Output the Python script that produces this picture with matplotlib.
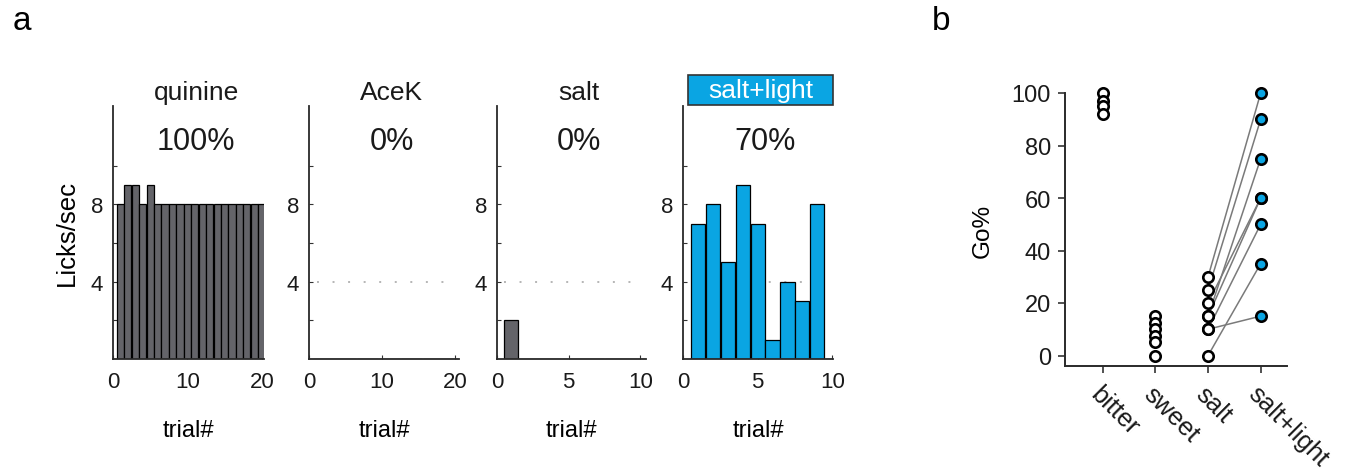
import matplotlib
matplotlib.use("Agg")
import matplotlib.pyplot as plt
from matplotlib.patches import Rectangle

plt.rcParams["font.family"] = ["Liberation Sans", "DejaVu Sans"]

BLUE = "#0aa5e3"
GRAY = "#646469"

# panel a: licks per trial
TITLES = ["quinine", "AceK", "salt", "salt+light"]
GO_PCT = ["100%", "0%", "0%", "70%"]
quinine = [8, 9, 9, 8, 9, 8, 8, 8, 8, 8, 8, 8, 8, 8, 8, 8, 8, 8, 8, 8]
acek = [0, 0, 0, 0, 0, 0, 0, 0, 0, 0, 0, 0, 0, 0, 0, 0, 0, 0, 0, 0]
salt = [2, 0, 0, 0, 0, 0, 0, 0, 0, 0]
salt_light = [7, 8, 5, 9, 7, 1, 4, 3, 8, 0]
LICKS = [quinine, acek, salt, salt_light]
XTICKS = [[0, 10, 20], [0, 10, 20], [0, 5, 10], [0, 5, 10]]

# panel b: Go% per mouse
CATS = ["bitter", "sweet", "salt", "salt+light"]
bitter_go = [100, 97, 95, 92]
sweet_go = [15, 12.5, 10, 7.5, 5, 0]
salt_go = [30, 25, 15, 20, 15, 10, 0, 10]
salt_light_go = [100, 90, 75, 60, 60, 50, 35, 15]

W, H = 1361, 477
fig = plt.figure(figsize=(W / 100, H / 100), dpi=100)

# left, right (px), xlim max
boxes = [(113, 264, 20.3), (309, 459, 20.5), (497, 646, 10.4), (683, 833, 10.05)]
for i, (l, r, xmax) in enumerate(boxes):
    ax = fig.add_axes([l / W, (H - 360) / H, (r - l) / W, 253 / H])
    vals = LICKS[i]
    trials = list(range(1, len(vals) + 1))
    color = BLUE if i == 3 else GRAY
    ax.axhline(4, xmin=0.05, xmax=0.97, color="#b5b5b5", lw=1.4,
               linestyle=(0, (1, 7)), zorder=0)
    ax.bar(trials, vals, width=0.97 if i < 3 else 0.95, color=color,
           edgecolor="black", linewidth=0.9, zorder=2)
    ax.set_xlim(0, xmax)
    ax.set_ylim(0, 13.1)
    ax.set_xticks(XTICKS[i])
    ax.set_yticks([2, 4, 6, 8, 10])
    ax.set_yticklabels(["", "4", "", "8", ""])
    ax.tick_params(direction="in", length=3, width=0.8, labelsize=16,
                   colors="#333333", labelcolor="#1a1a1a")
    ax.tick_params(axis="x", pad=9)
    ax.tick_params(axis="y", pad=7)
    ax.spines[["top", "right"]].set_visible(False)
    for s in ["left", "bottom"]:
        ax.spines[s].set_color("#2a2a2a")
        ax.spines[s].set_linewidth(1.3)
    ax.set_xlabel("trial#", fontsize=17, labelpad=19)
    if i == 0:
        ax.set_ylabel("Licks/sec", fontsize=18.5, labelpad=9)
    if i == 3:
        ax.add_patch(Rectangle((0.033, 1.004), 0.967, 0.119,
                               transform=ax.transAxes, fc=BLUE, ec="#333333",
                               lw=1.2, clip_on=False))
        ax.text(0.52, 1.063, TITLES[i], transform=ax.transAxes, fontsize=19,
                ha="center", va="center", color="white")
    else:
        ax.text(0.55, 1.055, TITLES[i], transform=ax.transAxes, fontsize=19,
                ha="center", va="center", color="#1a1a1a")
    ax.text(0.55, 0.86, GO_PCT[i], transform=ax.transAxes, fontsize=22,
            ha="center", va="center", color="#1a1a1a")

# panel b
bx = fig.add_axes([1065 / W, (H - 367) / H, 222 / W, 273 / H])
cat_x = [1, 2, 3, 4]
for s, l in zip(salt_go, salt_light_go):
    bx.plot([cat_x[2], cat_x[3]], [s, l], color="#7a7a7a", lw=1.1, zorder=1)
groups = [bitter_go, sweet_go, salt_go]
for x, g in zip(cat_x[:3], groups):
    bx.plot([x] * len(g), g, "o", ms=7.5, mfc="white", mec="black",
            mew=1.9, clip_on=False, zorder=3)
bx.plot([cat_x[3]] * len(salt_light_go), salt_light_go, "o", ms=7.5,
        mfc=BLUE, mec="black", mew=1.9, clip_on=False, zorder=3)
bx.set_xlim(0.28, 4.5)
bx.set_ylim(-4, 100)
bx.set_yticks([0, 20, 40, 60, 80, 100])
bx.set_xticks(cat_x)
bx.tick_params(direction="out", length=5, width=1.2, labelsize=17,
               colors="#333333", labelcolor="#1a1a1a")
bx.set_xticklabels(CATS, rotation=-45, ha="left", va="top",
                   rotation_mode="anchor", fontsize=18.5)
bx.tick_params(axis="y", pad=5)
bx.tick_params(axis="x", pad=6)
bx.spines[["top", "right"]].set_visible(False)
for s in ["left", "bottom"]:
    bx.spines[s].set_color("#2a2a2a")
    bx.spines[s].set_linewidth(1.4)
bx.set_ylabel("Go%", fontsize=17.5, labelpad=13)

fig.text(22 / W, 1 - 22 / H, "a", fontsize=24, ha="center", va="center")
fig.text(941 / W, 1 - 22 / H, "b", fontsize=24, ha="center", va="center")

fig.savefig("out.png", dpi=100, facecolor="white")
